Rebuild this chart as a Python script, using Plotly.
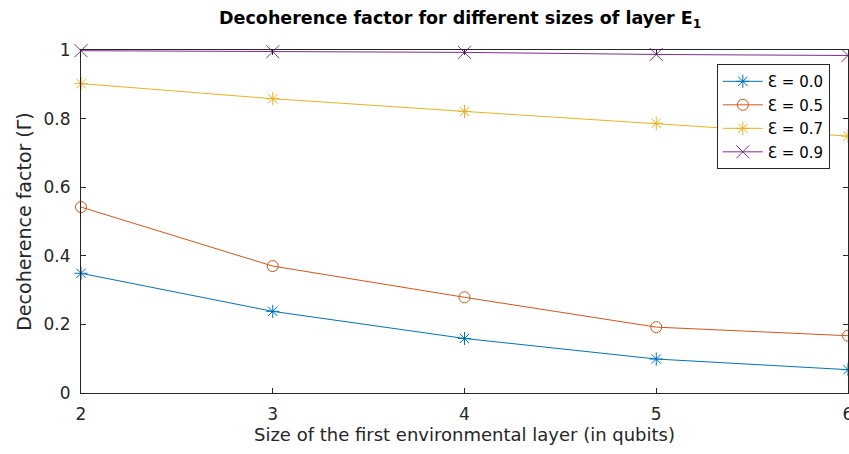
import plotly.graph_objects as go

sizes = [2, 3, 4, 5, 6]
eps_labels = ["Ɛ = 0.0", "Ɛ = 0.5", "Ɛ = 0.7", "Ɛ = 0.9"]
gamma_e00 = [0.349, 0.238, 0.159, 0.099, 0.068]
gamma_e05 = [0.542, 0.370, 0.279, 0.192, 0.167]
gamma_e07 = [0.902, 0.858, 0.821, 0.786, 0.749]
gamma_e09 = [0.998, 0.995, 0.993, 0.987, 0.984]

series = [gamma_e00, gamma_e05, gamma_e07, gamma_e09]
colors = ["#0072BD", "#D95319", "#EDB120", "#7E2F8E"]
symbols = ["asterisk-open", "circle-open", "asterisk-open", "x-thin-open"]
msizes = [11, 11, 11, 13]

FONT = "DejaVu Sans"

fig = go.Figure()
for i, (lab, vals, c, s, ms) in enumerate(zip(eps_labels, series, colors, symbols, msizes)):
    fig.add_trace(go.Scatter(
        x=sizes, y=vals, name=lab, mode="lines+markers", legendgroup=f"g{i}",
        line=dict(color=c, width=1),
        marker=dict(symbol=s, size=ms, color=c, line=dict(color=c, width=1)),
        cliponaxis=False,
    ))

axis_common = dict(
    showgrid=False, zeroline=False, showline=True, linecolor="#262626", linewidth=1,
    mirror="ticks", ticks="inside", ticklen=5, tickcolor="#262626",
    ticklabeloverflow="allow",
    tickfont=dict(family=FONT, size=17, color="#262626"),
)

fig.update_layout(
    width=849, height=454,
    margin=dict(l=81, r=1, t=50, b=61, autoexpand=False),
    paper_bgcolor="white", plot_bgcolor="white",
    title=dict(text="<b>Decoherence factor for different sizes of layer E<sub>1</sub></b>",
               xref="container", x=0.542, xanchor="center",
               yref="container", y=1 - 18 / 454, yanchor="middle",
               font=dict(family=FONT, size=17.5, color="black")),
    xaxis=dict(range=[2, 6], tickvals=sizes, ticktext=[str(v) for v in sizes],
               ticklabelstandoff=6,
               title=dict(text="Size of the first environmental layer (in qubits)", standoff=4,
                          font=dict(family=FONT, size=18, color="#262626")),
               **axis_common),
    yaxis=dict(range=[0, 1], tickvals=[0, 0.2, 0.4, 0.6, 0.8, 1],
               ticktext=["0", "0.2", "0.4", "0.6", "0.8", "1"],
               ticklabelstandoff=6,
               title=dict(text="Decoherence factor (Γ)", standoff=6,
                          font=dict(family=FONT, size=19, color="#262626")),
               **axis_common),
    legend=dict(x=0.829, y=0.959, xanchor="left", yanchor="top",
                bgcolor="white", bordercolor="#262626", borderwidth=1,
                font=dict(family=FONT, size=15, color="black"),
                tracegroupgap=1, itemwidth=40),
    showlegend=True,
)

fig.write_html("out.html", config={"displayModeBar": False},
               post_script="document.body.style.margin='0px';document.body.style.overflow='hidden';")
